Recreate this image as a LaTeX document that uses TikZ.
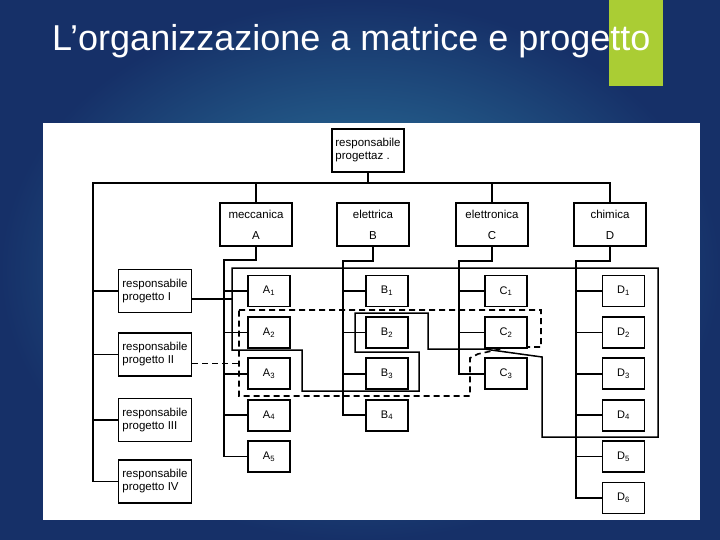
\documentclass[tikz,border=0pt]{standalone}
\usepackage{fontspec}
\setmainfont{Liberation Sans}
\usetikzlibrary{positioning}
\definecolor{slidedark}{RGB}{22,48,104}
\definecolor{slidelight}{RGB}{48,132,168}
\definecolor{slidegreen}{RGB}{170,205,52}
\tikzset{
  headbox/.style={
    rectangle,
    draw=black,
    line width=1.8pt,
    fill=white,
    align=left,
    minimum width=72pt,
    minimum height=43pt,
    inner sep=2pt,
    font=\fontsize{11.5}{13}\selectfont
  },
  deptbox/.style={
    rectangle,
    draw=black,
    line width=1.8pt,
    fill=white,
    align=center,
    minimum width=72pt,
    minimum height=43pt,
    font=\fontsize{11.5}{14}\selectfont
  },
  projbox/.style={
    rectangle,
    draw=black,
    line width=1.8pt,
    fill=white,
    align=left,
    minimum width=73pt,
    minimum height=43pt,
    inner sep=2pt,
    font=\fontsize{11.5}{13}\selectfont
  },
  cellbox/.style={
    rectangle,
    draw=black,
    line width=1.9pt,
    fill=white,
    minimum width=42pt,
    minimum height=31pt,
    font=\fontsize{11}{13}\selectfont
  },
  wire/.style={draw=black, line width=1.5pt},
  projdash/.style={draw=black, line width=1.6pt, dash pattern=on 6pt off 4pt}
}
\begin{document}
\begin{tikzpicture}[x=1pt, y=-1pt, node distance=8.5pt]
  \useasboundingbox (0,0) rectangle (720,540);
  \shade[inner color=slidelight, outer color=slidedark] (0,0) rectangle (720,540);
  \fill[slidegreen] (609,0) rectangle (663,86);
  \node[anchor=base west, text=white, inner sep=0pt, font=\fontsize{36}{40}\selectfont] (title) at (52,51) {L’organizzazione a matrice e progetto};
  \fill[white] (43,123) rectangle (700,520);

  % project loops
  \draw[wire] (232,268) -- (658,268) -- (658,437) -- (542,437) -- (542,357) -- (484,349) -- (428,349) -- (428,313) -- (355,313) -- (355,352) -- (419,352) -- (419,391) -- (302,391) -- (302,350) -- (232,350) -- cycle;
  \draw[projdash] (239,310) -- (541,310) -- (541,347) -- (510,347) -- (478,354) -- (470,358) -- (470,396) -- (239,396) -- cycle;

  \node[headbox] (resp) at (368,150.5) {responsabile\\progettaz .};
  \node[deptbox] (mecc) at (256,224.5) {meccanica\\[7pt]A};
  \node[deptbox] (elet) at (373,224.5) {elettrica\\[7pt]B};
  \node[deptbox] (elon) at (492,224.5) {elettronica\\[7pt]C};
  \node[deptbox] (chim) at (610,224.5) {chimica\\[7pt]D};

  \node[projbox] (pI) at (155,291) {responsabile\\progetto I};
  \node[projbox] (pII) at (155,354.5) {responsabile\\progetto II};
  \node[projbox] (pIII) at (155,420) {responsabile\\progetto III};
  \node[projbox] (pIV) at (155,481.5) {responsabile\\progetto IV};

  \node[cellbox] (a1) at (269,291) {A\textsubscript{1}};
  \node[cellbox, below=of a1] (a2) {A\textsubscript{2}};
  \node[cellbox, below=of a2] (a3) {A\textsubscript{3}};
  \node[cellbox, below=of a3] (a4) {A\textsubscript{4}};
  \node[cellbox, below=of a4] (a5) {A\textsubscript{5}};

  \node[cellbox] (b1) at (387,291) {B\textsubscript{1}};
  \node[cellbox, below=of b1] (b2) {B\textsubscript{2}};
  \node[cellbox, below=of b2] (b3) {B\textsubscript{3}};
  \node[cellbox, below=of b3] (b4) {B\textsubscript{4}};

  \node[cellbox] (c1) at (506,291) {C\textsubscript{1}};
  \node[cellbox, below=of c1] (c2) {C\textsubscript{2}};
  \node[cellbox, below=of c2] (c3) {C\textsubscript{3}};

  \node[cellbox] (d1) at (623.5,291) {D\textsubscript{1}};
  \node[cellbox, below=of d1] (d2) {D\textsubscript{2}};
  \node[cellbox, below=of d2] (d3) {D\textsubscript{3}};
  \node[cellbox, below=of d3] (d4) {D\textsubscript{4}};
  \node[cellbox, below=of d4] (d5) {D\textsubscript{5}};
  \node[cellbox, below=of d5] (d6) {D\textsubscript{6}};

  \coordinate (barL) at (93,183);
  \coordinate (ja) at (224,260);
  \coordinate (jb) at (343,261);
  \coordinate (jc) at (459,261);
  \coordinate (jd) at (576,261);
  \coordinate (inI) at (232,299);
  \coordinate (inII) at (239,363.5);

  % line of command
  \draw[wire] (pIV.west) -| (barL) -| (chim.north);
  \draw[wire] (resp.south) -- (resp.south |- barL);
  \draw[wire] (mecc.north) -- (mecc.north |- barL);
  \draw[wire] (elon.north) -- (elon.north |- barL);
  \draw[wire] (barL |- pI.west) -- (pI.west);
  \draw[wire] (barL |- pII.west) -- (pII.west);
  \draw[wire] (barL |- pIII.west) -- (pIII.west);

  % departments to their units
  \draw[wire] (mecc.south) |- (ja) |- (a5.west);
  \draw[wire] (elet.south) |- (jb) |- (b4.west);
  \draw[wire] (elon.south) |- (jc) |- (c3.west);
  \draw[wire] (chim.south) |- (jd) |- (d6.west);
  \draw[wire] (ja |- a1.west) -- (a1.west);
  \draw[wire] (ja |- a2.west) -- (a2.west);
  \draw[wire] (ja |- a3.west) -- (a3.west);
  \draw[wire] (ja |- a4.west) -- (a4.west);
  \draw[wire] (jb |- b1.west) -- (b1.west);
  \draw[wire] (jb |- b2.west) -- (b2.west);
  \draw[wire] (jb |- b3.west) -- (b3.west);
  \draw[wire] (jc |- c1.west) -- (c1.west);
  \draw[wire] (jc |- c2.west) -- (c2.west);
  \draw[wire] (jd |- d1.west) -- (d1.west);
  \draw[wire] (jd |- d2.west) -- (d2.west);
  \draw[wire] (jd |- d3.west) -- (d3.west);
  \draw[wire] (jd |- d4.west) -- (d4.west);
  \draw[wire] (jd |- d5.west) -- (d5.west);

  % project managers to their loops
  \draw[wire] ([yshift=-8pt]pI.east) -- (inI);
  \draw[projdash] ([yshift=-9pt]pII.east) -- (inII);
\end{tikzpicture}
\end{document}
